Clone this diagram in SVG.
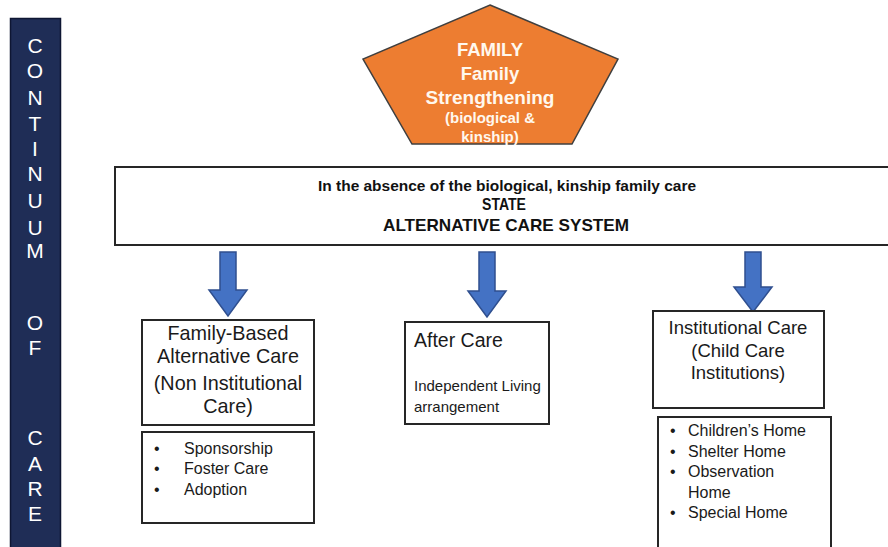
<svg xmlns="http://www.w3.org/2000/svg" width="888" height="547" viewBox="0 0 888 547">
  <style>
    .box { fill: #ffffff; stroke: #262626; stroke-width: 2; }
    .arrow { fill: #4472C4; stroke: #2F4F8F; stroke-width: 1.5; stroke-linejoin: miter; }
    .t { font-family: "Liberation Sans", Arial, sans-serif; fill: #1a1a1a; }
    .head { font-size: 18.5px; text-anchor: middle; }
    .big { font-size: 19.8px; }
    .sub { font-size: 15px; }
    .item { font-size: 16px; }
    .bar-letter { font-family: "Liberation Sans", Arial, sans-serif; font-size: 21px; fill: #ffffff; text-anchor: middle; }
    .fam { font-family: "Liberation Sans", Arial, sans-serif; font-weight: bold; fill: #fff8ee; text-anchor: middle; }
    .state { font-family: "Liberation Sans", Arial, sans-serif; font-weight: bold; fill: #111111; text-anchor: middle; }
  </style>
  <rect width="888" height="547" fill="#ffffff"/>

  <!-- side banner -->
  <g id="banner">
    <rect x="10.5" y="18.5" width="50" height="540" fill="#1F2D56" stroke="#0E1633" stroke-width="1.5"/>
    <text class="bar-letter" x="35" y="53">C</text>
    <text class="bar-letter" x="35" y="78">O</text>
    <text class="bar-letter" x="35" y="105">N</text>
    <text class="bar-letter" x="35" y="131">T</text>
    <text class="bar-letter" x="35" y="156">I</text>
    <text class="bar-letter" x="35" y="181">N</text>
    <text class="bar-letter" x="35" y="208">U</text>
    <text class="bar-letter" x="35" y="235">U</text>
    <text class="bar-letter" x="35" y="258">M</text>
    <text class="bar-letter" x="35" y="330">O</text>
    <text class="bar-letter" x="35" y="355">F</text>
    <text class="bar-letter" x="35" y="445">C</text>
    <text class="bar-letter" x="35" y="471">A</text>
    <text class="bar-letter" x="35" y="496">R</text>
    <text class="bar-letter" x="35" y="521">E</text>
  </g>

  <!-- family pentagon -->
  <g id="family">
    <polygon points="490,5 618,59 572,144 412,144 363,59" fill="#ED7D31" stroke="#3F3F3F" stroke-width="1.5"/>
    <text class="fam" x="490" y="56" font-size="18.5">FAMILY</text>
    <text class="fam" x="490" y="80" font-size="18.5">Family</text>
    <text class="fam" x="490" y="104" font-size="19">Strengthening</text>
    <text class="fam" x="490" y="123" font-size="15">(biological &amp;</text>
    <text class="fam" x="490" y="142" font-size="15">kinship)</text>
  </g>

  <!-- state system band -->
  <g id="state-system">
    <rect class="box" x="115" y="167" width="790" height="78"/>
    <text class="state" x="507" y="191" font-size="14" textLength="378" lengthAdjust="spacingAndGlyphs">In the absence of the biological, kinship family care</text>
    <text class="state" x="504" y="210" font-size="16.5" textLength="44" lengthAdjust="spacingAndGlyphs">STATE</text>
    <text class="state" x="506" y="231" font-size="17" textLength="246" lengthAdjust="spacingAndGlyphs">ALTERNATIVE CARE SYSTEM</text>
  </g>

  <!-- connectors -->
  <g id="connectors">
    <path class="arrow" d="M220,252 H236 V290 H247 L228,316 L209,290 H220 Z"/>
    <path class="arrow" d="M479,252 H495 V291 H506 L487,317 L468,291 H479 Z"/>
    <path class="arrow" d="M745,252 H761 V287 H772 L753,312 L734,287 H745 Z"/>
  </g>

  <!-- family based care -->
  <g id="family-based">
    <rect class="box" x="142" y="320" width="172" height="105"/>
    <text class="t head big" x="228" y="340">Family-Based</text>
    <text class="t head big" x="228" y="363">Alternative Care</text>
    <text class="t head big" x="228" y="390">(Non Institutional</text>
    <text class="t head big" x="228" y="413">Care)</text>
  </g>
  <g id="family-based-list">
    <rect class="box" x="142" y="432" width="172" height="91"/>
    <text class="t item" x="154" y="454">•</text>
    <text class="t item" x="184" y="454">Sponsorship</text>
    <text class="t item" x="154" y="474">•</text>
    <text class="t item" x="184" y="474">Foster Care</text>
    <text class="t item" x="154" y="495">•</text>
    <text class="t item" x="184" y="495">Adoption</text>
  </g>

  <!-- after care -->
  <g id="after-care">
    <rect class="box" x="405" y="322" width="144" height="102"/>
    <text class="t" x="414" y="347" font-size="19.5">After Care</text>
    <text class="t sub" x="414" y="391">Independent  Living</text>
    <text class="t sub" x="414" y="412">arrangement</text>
  </g>

  <!-- institutional care -->
  <g id="institutional">
    <rect class="box" x="653" y="311" width="171" height="97"/>
    <text class="t head" x="738" y="334">Institutional Care</text>
    <text class="t head" x="738" y="357">(Child Care</text>
    <text class="t head" x="738" y="379">Institutions)</text>
  </g>
  <g id="institutional-list">
    <rect class="box" x="658" y="417" width="173" height="140"/>
    <text class="t item" x="670" y="436">•</text>
    <text class="t item" x="688" y="436">Children’s Home</text>
    <text class="t item" x="670" y="457">•</text>
    <text class="t item" x="688" y="457">Shelter Home</text>
    <text class="t item" x="670" y="477">•</text>
    <text class="t item" x="688" y="477">Observation</text>
    <text class="t item" x="688" y="498">Home</text>
    <text class="t item" x="670" y="518">•</text>
    <text class="t item" x="688" y="518">Special Home</text>
  </g>
</svg>
